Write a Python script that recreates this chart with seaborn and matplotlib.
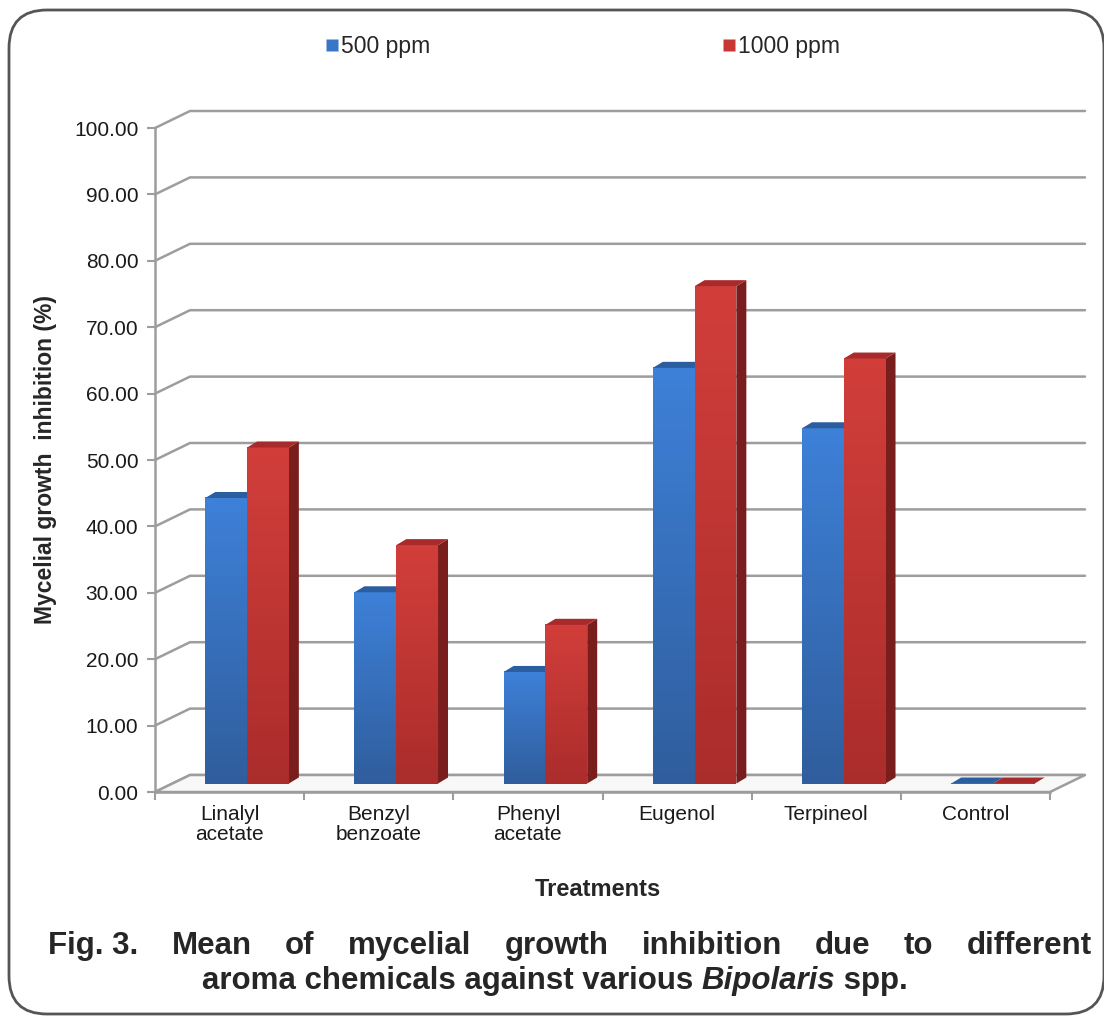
import numpy as np
import pandas as pd
import matplotlib
matplotlib.use("Agg")
import matplotlib.pyplot as plt
import matplotlib.transforms as mtransforms
from matplotlib.colors import to_rgb
from matplotlib.patches import Polygon, FancyBboxPatch, Rectangle
from matplotlib.lines import Line2D
import seaborn as sns

# data
treatments = ["Linalyl\nacetate", "Benzyl\nbenzoate", "Phenyl\nacetate",
              "Eugenol", "Terpineol", "Control"]
ppm_500 = [43.0, 28.8, 16.8, 62.6, 53.5, 0.0]
ppm_1000 = [50.6, 35.9, 23.9, 74.9, 64.0, 0.0]
doses = ["500 ppm", "1000 ppm"]
y_ticks = [0, 10, 20, 30, 40, 50, 60, 70, 80, 90, 100]

df = pd.DataFrame({
    "Treatment": treatments * 2,
    "Dose": [doses[0]] * len(treatments) + [doses[1]] * len(treatments),
    "Inhibition": ppm_500 + ppm_1000,
})

front = {"500 ppm": "#3a76c8", "1000 ppm": "#c93733"}
front_top = {"500 ppm": "#3d80d8", "1000 ppm": "#d23e3a"}
front_bot = {"500 ppm": "#2f5d9c", "1000 ppm": "#a92c2b"}
top = {"500 ppm": "#2c5d9f", "1000 ppm": "#a82a2a"}
side = {"500 ppm": "#24477c", "1000 ppm": "#7a1d1d"}
grid_c = "#9d9d9d"

sns.set_theme(style="white")
plt.rcParams["font.family"] = ["Liberation Sans", "DejaVu Sans"]

W, H = 1104, 1018
fig = plt.figure(figsize=(W / 100, H / 100), dpi=100)
ax = fig.add_axes([155 / W, 1 - 792 / H, (1050 - 155) / W, (792 - 128) / H])

sns.barplot(data=df, x="Treatment", y="Inhibition", hue="Dose",
            palette=front, width=0.56, gap=0, ax=ax, legend=False,
            saturation=1, edgecolor="none", linewidth=0)
ax.set_xlim(-0.5, 5.5)
ax.set_ylim(0, 100)

# 3D-ish depth (pixels): wall offset and bar depth
wall_dx, wall_dy = 35, 17
bar_dx, bar_dy = 10, 6
ident = mtransforms.IdentityTransform()
to_px = ax.transData.transform

# back wall gridlines with perspective connectors
for v in y_ticks:
    x0, y0 = to_px((-0.5, v))
    x1, _ = to_px((5.5, v))
    ax.add_line(Line2D([x0, x0 + wall_dx, x1 + wall_dx], [y0, y0 + wall_dy, y0 + wall_dy],
                       transform=ident, color=grid_c, lw=1.8, clip_on=False, zorder=0))
# floor
fx0, fy0 = to_px((-0.5, 0))
fx1, _ = to_px((5.5, 0))
ax.add_patch(Polygon([[fx0, fy0], [fx1, fy0], [fx1 + wall_dx, fy0 + wall_dy],
                      [fx0 + wall_dx, fy0 + wall_dy]], closed=True, transform=ident,
                     facecolor="#f8f8f8", edgecolor=grid_c, lw=1.8, clip_on=False, zorder=0.5))

# shift bars to mid-depth and add top/side faces
off_x, off_y = wall_dx / 2, wall_dy / 2
bars = [p for p in ax.patches if isinstance(p, Rectangle) and p.get_width() < 1]
n = len(treatments)
for i, p in enumerate(bars):
    dose = doses[0] if i < n else doses[1]
    x, w, h = p.get_x(), p.get_width(), p.get_height()
    (ax0, ay0) = to_px((x, 0))
    (ax1, ay1) = to_px((x + w, h))
    ax0 += off_x; ax1 += off_x; ay0 += off_y; ay1 += off_y
    p.set_visible(False)
    z = 3 if dose == doses[0] else 4
    # vertical gradient on the front face
    c_top, c_bot = np.array(to_rgb(front_top[dose])), np.array(to_rgb(front_bot[dose]))
    steps = 40
    ys = np.linspace(ay0, ay1, steps + 1)
    for k in range(steps):
        f = (k + 0.5) / steps
        col = c_bot * (1 - f) + c_top * f
        ax.add_patch(Polygon([[ax0, ys[k]], [ax1, ys[k]], [ax1, ys[k + 1] + 0.5], [ax0, ys[k + 1] + 0.5]],
                             closed=True, transform=ident, facecolor=col, edgecolor="none",
                             clip_on=False, zorder=z))
    ax.add_patch(Polygon([[ax0, ay1], [ax1, ay1], [ax1 + bar_dx, ay1 + bar_dy],
                          [ax0 + bar_dx, ay1 + bar_dy]], closed=True, transform=ident,
                         facecolor=top[dose], edgecolor="none", clip_on=False, zorder=z))
    ax.add_patch(Polygon([[ax1, ay0], [ax1 + bar_dx, ay0 + bar_dy], [ax1 + bar_dx, ay1 + bar_dy],
                          [ax1, ay1]], closed=True, transform=ident,
                         facecolor=side[dose], edgecolor="none", clip_on=False, zorder=z - 0.5))

# axes styling
for s in ["top", "right"]:
    ax.spines[s].set_visible(False)
for s in ["left", "bottom"]:
    ax.spines[s].set_color(grid_c)
    ax.spines[s].set_linewidth(1.8)
ax.set_yticks(y_ticks)
ax.set_yticklabels([f"{v:.2f}" for v in y_ticks], fontsize=15, color="#1a1a1a")
ax.set_xticks(range(n))
ax.set_xticklabels(treatments, fontsize=15, color="#1a1a1a", linespacing=1.1)
ax.set_xticks(np.arange(-0.5, n, 1.0), minor=True)
ax.tick_params(axis="y", direction="out", length=6, color=grid_c, width=1.5, pad=6, left=True)
ax.tick_params(axis="x", which="major", length=0, pad=9)
ax.tick_params(axis="x", which="minor", direction="out", length=6, color=grid_c, width=1.5, bottom=True)
ax.set_xlabel("")
ax.set_ylabel("Mycelial growth  inhibition (%)", fontsize=16.5, fontweight="bold", labelpad=12)
ax.patch.set_alpha(0)

fig.text(598 / W, 1 - 890 / H, "Treatments", ha="center", va="center",
         fontsize=17, fontweight="bold")

# legend
handles = [Line2D([], [], marker="s", ls="", markersize=8, markerfacecolor=front[d],
                  markeredgecolor="none", label=d) for d in doses]
fig.legend(handles=handles, ncol=2, loc="center", bbox_to_anchor=(583 / W, 1 - 47 / H),
           frameon=False, fontsize=16.5, handlelength=0.5, handletextpad=0.15, columnspacing=12.8)

# caption (justified first line, centred second line)
fig.canvas.draw()
rend = fig.canvas.get_renderer()
cap_size = 22.5
line1 = ["Fig. 3.", "Mean", "of", "mycelial", "growth", "inhibition", "due", "to", "different"]
words = [fig.text(0, 0, wd, fontsize=cap_size, fontweight="bold", va="center") for wd in line1]
widths = [t.get_window_extent(rend).width for t in words]
left_px, right_px = 48, 1092
gap = (right_px - left_px - sum(widths)) / (len(words) - 1)
xcur = left_px
for t, wpx in zip(words, widths):
    t.set_position((xcur / W, 1 - 946 / H))
    xcur += wpx + gap

parts = [("aroma chemicals against various ", "normal"), ("Bipolaris", "italic"), (" spp.", "normal")]
pts = [fig.text(0, 0, s, fontsize=cap_size, fontweight="bold", style=st, va="center") for s, st in parts]
pw = [t.get_window_extent(rend).width for t in pts]
xcur = 555 - sum(pw) / 2
for t, wpx in zip(pts, pw):
    t.set_position((xcur / W, 1 - 981 / H))
    xcur += wpx

# rounded frame
fig.patches.append(FancyBboxPatch((9, 4), W - 9, H - 14, boxstyle="round,pad=0,rounding_size=38",
                                  transform=ident, facecolor="none", edgecolor="#555555",
                                  lw=2, figure=fig))

fig.savefig("out.png", dpi=100)
